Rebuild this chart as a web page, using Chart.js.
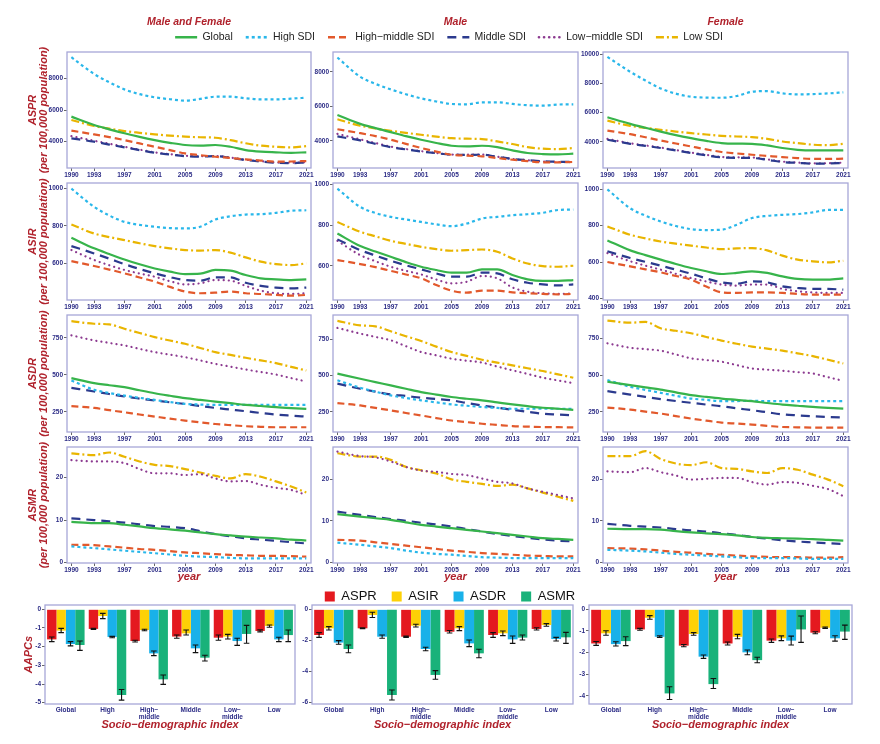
<!DOCTYPE html>
<html>
<head>
<meta charset="utf-8">
<script src="https://cdn.jsdelivr.net/npm/chart.js@4.4.1/dist/chart.umd.min.js"></script>
<style>
html, body { margin: 0; padding: 0; background: #fff; }
#page { position: relative; width: 880px; height: 744px; overflow: hidden; background: #fff; }
canvas { position: absolute; }
</style>
</head>
<body>
<div id="page"></div>
<script>
Chart.defaults.font.family = "'Liberation Sans', Arial, sans-serif";
Chart.defaults.animation = false;

const YEARS = [1990, 1993, 1995, 1997, 1999, 2001, 2003, 2005, 2007, 2009, 2011, 2013, 2015, 2017, 2019, 2021];
const YEAR_TICKS = [1990, 1993, 1997, 2001, 2005, 2009, 2013, 2017, 2021];
const GROUPS = ["Global", "High SDI", "High\u2212middle SDI", "Middle SDI", "Low\u2212middle SDI", "Low SDI"];
const SDI_CATS = ["Global", "High", ["High\u2212", "middle"], "Middle", ["Low\u2212", "middle"], "Low"];
const MEASURES = ["ASPR", "ASIR", "ASDR", "ASMR"];
const SEXES = ["Male and Female", "Male", "Female"];

// rows in every table: Global, High, High-middle, Middle, Low-middle, Low
const ASPR_BOTH = [
    [5580, 5050, 4780, 4530, 4300, 4100, 3930, 3790, 3750, 3790, 3680, 3470, 3370, 3330, 3300, 3330],
    [9330, 8270, 7750, 7300, 7000, 6800, 6680, 6590, 6700, 6840, 6840, 6740, 6670, 6670, 6715, 6780],
    [4700, 4460, 4290, 4100, 3890, 3680, 3470, 3260, 3150, 3050, 2970, 2880, 2810, 2740, 2750, 2780],
    [4210, 4000, 3820, 3640, 3470, 3300, 3190, 3090, 3060, 3090, 2980, 2840, 2750, 2670, 2650, 2690],
    [4350, 4060, 3870, 3680, 3500, 3330, 3210, 3110, 3080, 3100, 3000, 2860, 2770, 2690, 2670, 2700],
    [5370, 4990, 4820, 4670, 4560, 4460, 4380, 4320, 4280, 4250, 4100, 3900, 3750, 3680, 3640, 3720]
];
const ASPR_MALE = [
    [5500, 4980, 4730, 4500, 4270, 4060, 3870, 3710, 3670, 3710, 3630, 3440, 3290, 3230, 3210, 3250],
    [8830, 7710, 7300, 6980, 6700, 6460, 6280, 6135, 6115, 6230, 6230, 6135, 6060, 6040, 6100, 6115],
    [4670, 4440, 4270, 4060, 3820, 3580, 3370, 3190, 3140, 3100, 3000, 2900, 2820, 2750, 2750, 2770],
    [4250, 4020, 3820, 3630, 3500, 3380, 3280, 3190, 3180, 3190, 3070, 2940, 2870, 2810, 2780, 2770],
    [4400, 4080, 3870, 3660, 3520, 3400, 3290, 3200, 3190, 3200, 3080, 2950, 2870, 2800, 2770, 2760],
    [5250, 4870, 4720, 4580, 4460, 4350, 4240, 4150, 4120, 4100, 3960, 3810, 3630, 3540, 3520, 3580]
];
const ASPR_FEMALE = [
    [5680, 5230, 4960, 4700, 4460, 4250, 4060, 3910, 3870, 3860, 3750, 3570, 3450, 3410, 3410, 3410],
    [9820, 8800, 8200, 7660, 7300, 7090, 7030, 7020, 7140, 7430, 7480, 7320, 7250, 7270, 7320, 7390],
    [4770, 4520, 4310, 4090, 3880, 3680, 3480, 3300, 3200, 3110, 3030, 2950, 2880, 2820, 2820, 2840],
    [4140, 3860, 3720, 3570, 3400, 3230, 3070, 2930, 2900, 2890, 2760, 2610, 2550, 2500, 2510, 2550],
    [4200, 3900, 3750, 3600, 3430, 3260, 3100, 2960, 2930, 2920, 2790, 2640, 2570, 2520, 2530, 2570],
    [5450, 5090, 4950, 4820, 4700, 4590, 4500, 4410, 4360, 4320, 4200, 4020, 3910, 3800, 3770, 3860]
];

const ASIR_BOTH = [
    [736, 680, 650, 621, 595, 573, 556, 543, 545, 565, 561, 538, 520, 515, 511, 515],
    [998, 901, 855, 821, 805, 795, 788, 786, 795, 834, 851, 860, 862, 869, 880, 883],
    [612, 586, 567, 547, 525, 503, 475, 450, 441, 444, 450, 441, 437, 432, 428, 432],
    [692, 653, 625, 596, 570, 547, 527, 511, 508, 526, 526, 497, 480, 471, 467, 471],
    [671, 618, 590, 565, 546, 529, 505, 488, 494, 511, 508, 480, 455, 441, 437, 441],
    [807, 759, 740, 724, 707, 692, 680, 671, 668, 671, 657, 632, 609, 596, 591, 600]
];
const ASIR_MALE = [
    [759, 697, 670, 644, 618, 595, 579, 566, 566, 582, 582, 554, 533, 525, 525, 529],
    [980, 890, 860, 841, 828, 816, 804, 795, 808, 833, 841, 849, 854, 861, 875, 877],
    [628, 608, 593, 575, 557, 538, 505, 477, 467, 477, 477, 469, 464, 461, 459, 461],
    [730, 677, 650, 625, 602, 582, 562, 546, 546, 566, 562, 533, 516, 508, 503, 508],
    [723, 652, 622, 595, 575, 557, 532, 513, 521, 549, 538, 493, 472, 464, 461, 464],
    [816, 767, 745, 723, 708, 693, 682, 674, 677, 680, 669, 636, 611, 598, 595, 600]
];
const ASIR_FEMALE = [
    [719, 664, 638, 613, 589, 567, 549, 534, 540, 549, 540, 521, 507, 503, 503, 510],
    [1000, 896, 855, 823, 798, 781, 776, 778, 805, 842, 854, 860, 864, 873, 887, 887],
    [600, 576, 560, 543, 523, 503, 465, 433, 430, 433, 433, 430, 424, 421, 421, 421],
    [659, 622, 601, 580, 558, 536, 510, 488, 481, 494, 488, 466, 457, 452, 452, 448],
    [649, 604, 580, 558, 535, 512, 493, 476, 470, 476, 476, 452, 439, 433, 430, 430],
    [796, 750, 730, 713, 701, 690, 680, 671, 675, 677, 664, 635, 613, 604, 598, 607]
];

const ASDR_BOTH = [
    [478, 444, 430, 417, 396, 376, 359, 343, 331, 320, 309, 298, 290, 282, 276, 271],
    [462, 399, 378, 360, 345, 331, 317, 304, 300, 298, 298, 298, 298, 298, 298, 298],
    [289, 277, 262, 248, 233, 219, 205, 192, 180, 169, 161, 154, 150, 147, 147, 147],
    [412, 388, 371, 354, 340, 327, 315, 304, 290, 277, 266, 255, 243, 232, 225, 219],
    [766, 732, 715, 698, 675, 653, 636, 619, 597, 574, 555, 536, 519, 502, 478, 455],
    [862, 844, 840, 810, 782, 754, 731, 709, 681, 653, 634, 615, 597, 579, 554, 529]
];
const ASDR_MALE = [
    [514, 479, 456, 433, 410, 387, 370, 353, 341, 330, 316, 302, 290, 279, 272, 265],
    [468, 417, 390, 364, 347, 330, 316, 302, 293, 284, 278, 272, 272, 272, 272, 272],
    [311, 295, 278, 261, 243, 226, 208, 191, 180, 169, 161, 153, 149, 146, 145, 144],
    [445, 410, 390, 371, 360, 348, 339, 330, 312, 295, 280, 265, 251, 238, 232, 226],
    [829, 790, 767, 744, 703, 663, 640, 617, 603, 590, 563, 537, 512, 486, 467, 449],
    [877, 847, 840, 806, 772, 739, 700, 663, 636, 610, 590, 571, 551, 532, 509, 486]
];
const ASDR_FEMALE = [
    [455, 432, 417, 402, 383, 364, 352, 341, 332, 323, 311, 300, 292, 284, 278, 273],
    [466, 421, 400, 380, 360, 341, 332, 323, 324, 325, 324, 323, 323, 323, 323, 323],
    [280, 266, 252, 239, 222, 205, 191, 178, 171, 164, 156, 148, 146, 144, 144, 144],
    [391, 368, 352, 337, 324, 312, 300, 289, 275, 262, 248, 234, 227, 221, 216, 212],
    [716, 686, 676, 666, 640, 614, 602, 591, 568, 545, 537, 530, 520, 511, 486, 461],
    [870, 856, 861, 818, 801, 784, 759, 734, 713, 693, 680, 666, 648, 629, 604, 579]
];

const ASMR_BOTH = [
    [9.6, 9.3, 9.3, 8.9, 8.5, 8.1, 7.8, 7.5, 7.1, 6.7, 6.4, 6.1, 5.9, 5.7, 5.4, 5.2],
    [3.8, 3.4, 3.1, 2.8, 2.5, 2.2, 1.9, 1.6, 1.4, 1.3, 1.1, 1.0, 1.0, 1.0, 1.0, 1.0],
    [4.2, 4.1, 3.8, 3.5, 3.2, 3.0, 2.7, 2.4, 2.2, 2.0, 1.8, 1.7, 1.6, 1.6, 1.5, 1.4],
    [10.4, 10.0, 9.7, 9.4, 9.0, 8.6, 8.4, 8.1, 7.4, 6.7, 6.2, 5.7, 5.4, 5.1, 4.8, 4.5],
    [24.1, 23.8, 23.8, 23.4, 22.0, 21.0, 21.0, 20.6, 20.8, 19.8, 19.1, 19.2, 18.3, 17.6, 17.1, 15.9],
    [25.7, 25.3, 25.9, 24.9, 23.8, 23.0, 22.7, 22.0, 21.2, 20.4, 19.8, 20.8, 20.2, 19.1, 17.9, 16.5]
];
const ASMR_MALE = [
    [11.6, 11.0, 10.6, 10.2, 9.6, 9.0, 8.6, 8.2, 7.8, 7.4, 7.0, 6.6, 6.2, 5.8, 5.6, 5.4],
    [4.7, 4.2, 3.8, 3.4, 2.8, 2.3, 2.0, 1.8, 1.5, 1.2, 1.1, 1.0, 1.0, 1.0, 1.0, 1.0],
    [5.4, 5.2, 4.8, 4.4, 4.0, 3.6, 3.2, 2.8, 2.5, 2.2, 2.0, 1.8, 1.6, 1.5, 1.4, 1.4],
    [12.2, 11.4, 10.9, 10.4, 10.0, 9.5, 9.1, 8.6, 8.0, 7.4, 6.8, 6.3, 5.9, 5.5, 5.2, 5.0],
    [26.7, 25.6, 25.3, 24.3, 23.0, 22.1, 21.8, 21.3, 21.0, 20.2, 19.4, 19.0, 17.8, 17.0, 16.2, 15.4],
    [26.3, 25.5, 25.5, 24.7, 23.0, 22.2, 21.4, 20.0, 19.4, 18.9, 18.4, 18.7, 17.8, 16.8, 15.8, 14.8]
];
const ASMR_FEMALE = [
    [8.1, 8.0, 8.0, 7.9, 7.5, 7.2, 7.0, 6.8, 6.5, 6.1, 5.9, 5.8, 5.7, 5.6, 5.4, 5.2],
    [3.0, 2.8, 2.6, 2.3, 2.0, 1.8, 1.6, 1.4, 1.2, 1.0, 1.0, 1.0, 0.9, 0.8, 0.8, 0.8],
    [3.4, 3.3, 3.1, 2.8, 2.5, 2.3, 2.0, 1.8, 1.6, 1.4, 1.3, 1.2, 1.2, 1.1, 1.1, 1.2],
    [9.3, 8.8, 8.6, 8.4, 8.0, 7.7, 7.4, 7.0, 6.6, 6.1, 5.7, 5.3, 5.0, 4.8, 4.6, 4.4],
    [22.0, 21.8, 22.8, 21.8, 21.0, 20.0, 20.2, 20.4, 20.4, 19.4, 18.8, 19.4, 19.2, 18.5, 17.7, 16.0],
    [25.7, 25.7, 26.9, 25.0, 23.9, 23.5, 24.2, 22.8, 22.6, 22.0, 21.6, 22.8, 22.4, 21.2, 20.0, 18.4]
];

// AAPC bars: rows ASPR, ASIR, ASDR, ASMR; columns follow SDI_CATS
const AAPC_BOTH = [
    [-1.61, -1.05, -1.70, -1.46, -1.52, -1.16],
    [-1.14, -0.36, -1.11, -1.29, -1.46, -0.89],
    [-1.86, -1.48, -2.36, -2.09, -1.70, -1.61],
    [-1.91, -4.59, -3.75, -2.59, -1.32, -1.38]
];
const AAPC_BOTH_LO = [
    [-1.73, -1.08, -1.75, -1.55, -1.66, -1.21],
    [-1.25, -0.50, -1.15, -1.38, -1.59, -0.96],
    [-1.96, -1.52, -2.48, -2.32, -1.93, -1.73],
    [-2.20, -4.86, -4.02, -2.77, -1.82, -1.73]
];
const AAPC_BOTH_HI = [
    [-1.48, -1.02, -1.66, -1.38, -1.38, -1.10],
    [-1.02, -0.22, -1.07, -1.11, -1.34, -0.84],
    [-1.73, -1.45, -2.23, -1.91, -1.55, -1.50],
    [-1.70, -4.29, -3.52, -2.46, -0.86, -1.11]
];
const AAPC_MALE = [
    [-1.65, -1.22, -1.76, -1.44, -1.65, -1.26],
    [-1.22, -0.36, -1.05, -1.22, -1.54, -1.01],
    [-2.14, -1.76, -2.55, -2.19, -1.93, -1.91],
    [-2.55, -5.51, -4.22, -2.83, -1.82, -1.80]
];
const AAPC_MALE_LO = [
    [-1.80, -1.25, -1.80, -1.52, -1.80, -1.33],
    [-1.33, -0.52, -1.14, -1.37, -1.69, -1.09],
    [-2.25, -1.86, -2.66, -2.40, -2.19, -2.04],
    [-2.79, -5.83, -4.50, -3.11, -1.97, -2.19]
];
const AAPC_MALE_HI = [
    [-1.50, -1.19, -1.72, -1.36, -1.50, -1.18],
    [-1.11, -0.19, -0.96, -1.11, -1.39, -0.92],
    [-2.01, -1.65, -2.44, -1.97, -1.71, -1.80],
    [-2.29, -5.19, -3.94, -2.57, -1.65, -1.48]
];
const AAPC_FEMALE = [
    [-1.58, -0.93, -1.68, -1.58, -1.45, -1.08],
    [-1.11, -0.39, -1.14, -1.27, -1.34, -0.85],
    [-1.61, -1.27, -2.19, -1.99, -1.45, -1.34],
    [-1.47, -3.89, -3.46, -2.35, -0.93, -1.03]
];
const AAPC_FEMALE_LO = [
    [-1.67, -0.97, -1.73, -1.65, -1.53, -1.13],
    [-1.20, -0.46, -1.20, -1.36, -1.45, -0.88],
    [-1.70, -1.30, -2.27, -2.10, -1.65, -1.47],
    [-1.68, -4.17, -3.66, -2.47, -1.53, -1.39]
];
const AAPC_FEMALE_HI = [
    [-1.49, -0.88, -1.63, -1.51, -1.37, -1.04],
    [-0.99, -0.29, -1.08, -1.16, -1.23, -0.82],
    [-1.50, -1.22, -2.11, -1.88, -1.24, -1.22],
    [-1.27, -3.58, -3.20, -2.22, -0.31, -0.73]
];

// y ticks per panel
const ASPR_TICKS = [[4000, 6000, 8000], [4000, 6000, 8000], [4000, 6000, 8000, 10000]];
const ASIR_TICKS = [[600, 800, 1000], [600, 800, 1000], [400, 600, 800, 1000]];
const ASDR_TICKS = [250, 500, 750];
const ASMR_TICKS = [0, 10, 20];
const AAPC_TICKS = [[0, -1, -2, -3, -4, -5], [0, -2, -4, -6], [0, -1, -2, -3, -4]];

// styles
const LINE_STYLE = [
    { color: "#37b44b", dash: [], cap: "butt" },
    { color: "#29b7ea", dash: [3, 3], cap: "butt" },
    { color: "#e2592c", dash: [7, 4], cap: "butt" },
    { color: "#2b3a8e", dash: [9, 6], cap: "butt" },
    { color: "#8c3a90", dash: [0.1, 5], cap: "round" },
    { color: "#e9b500", dash: [8, 3, 2, 3], cap: "butt" }
];
const BAR_COLORS = ["#e4191f", "#fdd106", "#19b1e9", "#19b27a"];
const RED = "#b0222c";
const NAVY = "#2c2c86";
const TICK_COL = "#666";
const FRAME_COL = "#a7a7d8";

// page geometry of the plot boxes
const COL_L = [67, 333, 603];
const COL_R = [311, 578, 848];
const ROW_T = [52, 183, 315, 447];
const ROW_B = [168, 300, 432, 563];
const BAR_L = [45, 312, 589];
const BAR_R = [295, 573, 852];
const BAR_T = 605;
const BAR_B = 704;

const titleFont = { size: 11, weight: "bold", style: "italic" };
const tickFont = { size: 6.5, weight: "bold" };

const framePlugin = {
    id: "frame",
    afterDraw(chart) {
        const a = chart.chartArea;
        const ctx = chart.ctx;
        ctx.save();
        ctx.strokeStyle = FRAME_COL;
        ctx.lineWidth = 1.3;
        ctx.strokeRect(a.left, a.top, a.right - a.left, a.bottom - a.top);
        ctx.restore();
    }
};

const whiskerPlugin = {
    id: "whiskers",
    afterDatasetsDraw(chart) {
        const ctx = chart.ctx;
        const y = chart.scales.y;
        ctx.save();
        ctx.strokeStyle = "#111";
        ctx.lineWidth = 1.1;
        chart.data.datasets.forEach(function (ds, i) {
            chart.getDatasetMeta(i).data.forEach(function (bar, j) {
                const y1 = y.getPixelForValue(ds.lo[j]);
                const y2 = y.getPixelForValue(ds.hi[j]);
                const x = bar.x;
                const w = 2.8;
                ctx.beginPath();
                ctx.moveTo(x, y1); ctx.lineTo(x, y2);
                ctx.moveTo(x - w, y1); ctx.lineTo(x + w, y1);
                ctx.moveTo(x - w, y2); ctx.lineTo(x + w, y2);
                ctx.stroke();
            });
        });
        ctx.restore();
    }
};

function addCanvas(left, top, w, h) {
    const cv = document.createElement("canvas");
    cv.width = w;
    cv.height = h;
    cv.style.left = left + "px";
    cv.style.top = top + "px";
    cv.style.width = w + "px";
    cv.style.height = h + "px";
    document.getElementById("page").appendChild(cv);
    return cv;
}

function linePanel(r, c, rows, yMin, yMax, yTicks) {
    const yw = c === 0 ? 45 : 24;
    const rp = 10;
    const head = r === 0 ? 36 : 6;
    const foot = r === 3 ? 28 : 12;
    const cv = addCanvas(COL_L[c] - yw, ROW_T[r] - head,
        COL_R[c] - COL_L[c] + yw + rp, ROW_B[r] - ROW_T[r] + head + foot);

    const datasets = rows.map(function (vals, i) {
        return {
            label: GROUPS[i],
            data: vals.map(function (v, k) { return { x: YEARS[k], y: v }; }),
            borderColor: LINE_STYLE[i].color,
            backgroundColor: LINE_STYLE[i].color,
            borderDash: LINE_STYLE[i].dash,
            borderCapStyle: LINE_STYLE[i].cap,
            borderWidth: 2.2,
            pointRadius: 0,
            cubicInterpolationMode: "monotone",
            fill: false
        };
    });

    const scales = {
        x: {
            type: "linear",
            min: 1989.42,
            max: 2021.62,
            afterBuildTicks: function (s) { s.ticks = YEAR_TICKS.map(function (v) { return { value: v }; }); },
            afterFit: function (s) { s.height = foot; },
            grid: { drawOnChartArea: false, tickLength: 3, color: TICK_COL },
            border: { display: false },
            ticks: { padding: 0, maxRotation: 0, autoSkip: false, color: NAVY, font: tickFont,
                callback: function (v) { return String(v); } },
            title: { display: r === 3, text: "year", color: RED, font: titleFont, padding: { top: 0, bottom: 7.4 } }
        },
        y: {
            type: "linear",
            min: yMin,
            max: yMax,
            afterBuildTicks: function (s) { s.ticks = yTicks.map(function (v) { return { value: v }; }); },
            afterFit: function (s) { s.width = yw; },
            grid: { drawOnChartArea: false, tickLength: 3, color: TICK_COL },
            border: { display: false },
            ticks: { padding: 1, color: NAVY, font: tickFont, callback: function (v) { return String(v); } },
            title: {
                display: c === 0,
                text: [MEASURES[r], "(per 100,000 population)"],
                color: RED,
                font: { size: 11, weight: "bold", style: "italic", lineHeight: 1 },
                padding: { top: 5.5, bottom: 0 }
            }
        }
    };
    if (r === 0) {
        scales.xTop = {
            axis: "x",
            type: "linear",
            position: "top",
            afterFit: function (s) { s.height = head; },
            ticks: { display: false },
            grid: { display: false },
            border: { display: false },
            title: { display: true, text: SEXES[c], color: RED, font: { size: 10.5, weight: "bold", style: "italic" },
                padding: { top: 0, bottom: 0 } }
        };
    }

    new Chart(cv, {
        type: "line",
        data: { datasets: datasets },
        options: {
            responsive: false,
            animation: false,
            events: [],
            layout: { padding: { top: r === 0 ? 0 : head, right: rp, left: 0, bottom: 0 } },
            plugins: { legend: { display: false }, tooltip: { enabled: false } },
            scales: scales
        },
        plugins: [framePlugin]
    });
}

function barPanel(c, vals, lo, hi, yMin, yMax) {
    const yw = [25, 14, 12][c];
    const rp = 6;
    const head = 6;
    const foot = 30;
    const cv = addCanvas(BAR_L[c] - yw, BAR_T - head,
        BAR_R[c] - BAR_L[c] + yw + rp, BAR_B - BAR_T + head + foot);

    const datasets = MEASURES.map(function (m, i) {
        return {
            label: m,
            data: vals[i],
            lo: lo[i],
            hi: hi[i],
            backgroundColor: BAR_COLORS[i],
            borderWidth: 0,
            categoryPercentage: 0.9,
            barPercentage: 1.0
        };
    });

    new Chart(cv, {
        type: "bar",
        data: { labels: SDI_CATS, datasets: datasets },
        options: {
            responsive: false,
            animation: false,
            events: [],
            layout: { padding: { top: head, right: rp, left: 0, bottom: 0 } },
            plugins: { legend: { display: false }, tooltip: { enabled: false } },
            scales: {
                x: {
                    afterFit: function (s) { s.height = foot; },
                    grid: { display: false, drawTicks: false, tickLength: 0 },
                    border: { display: false },
                    ticks: { padding: 2, maxRotation: 0, autoSkip: false, color: NAVY, font: tickFont },
                    title: { display: true, text: "Socio\u2212demographic index", color: RED, font: titleFont,
                        padding: { top: 0, bottom: 2.4 } }
                },
                y: {
                    type: "linear",
                    min: yMin,
                    max: yMax,
                    afterBuildTicks: function (s) { s.ticks = AAPC_TICKS[c].map(function (v) { return { value: v }; }); },
                    afterFit: function (s) { s.width = yw; },
                    grid: { drawOnChartArea: false, tickLength: 3, color: TICK_COL },
                    border: { display: false },
                    ticks: { padding: 1, color: NAVY, font: tickFont, callback: function (v) { return String(v); } },
                    title: { display: c === 0, text: "AAPCs", color: RED, font: titleFont, padding: { top: 2.4, bottom: 0 } }
                }
            }
        },
        plugins: [framePlugin, whiskerPlugin]
    });
}

function legendChart(left, top, height, type, datasets, labelOpts) {
    const cv = addCanvas(left, top, 880, height);
    new Chart(cv, {
        type: type,
        data: { labels: [], datasets: datasets },
        options: {
            responsive: false,
            animation: false,
            events: [],
            layout: { padding: 0 },
            scales: { x: { display: false }, y: { display: false } },
            plugins: {
                tooltip: { enabled: false },
                legend: { display: true, position: "top", align: "center", labels: labelOpts }
            }
        }
    });
}

// line panels
linePanel(0, 0, ASPR_BOTH, 2340, 9660, ASPR_TICKS[0]);
linePanel(0, 1, ASPR_MALE, 2420, 9150, ASPR_TICKS[1]);
linePanel(0, 2, ASPR_FEMALE, 2200, 10160, ASPR_TICKS[2]);
linePanel(1, 0, ASIR_BOTH, 405, 1028, ASIR_TICKS[0]);
linePanel(1, 1, ASIR_MALE, 431, 1008, ASIR_TICKS[1]);
linePanel(1, 2, ASIR_FEMALE, 391, 1035, ASIR_TICKS[2]);
linePanel(2, 0, ASDR_BOTH, 115, 903, ASDR_TICKS);
linePanel(2, 1, ASDR_MALE, 112, 918, ASDR_TICKS);
linePanel(2, 2, ASDR_FEMALE, 114, 908, ASDR_TICKS);
linePanel(3, 0, ASMR_BOTH, -0.1, 27.2, ASMR_TICKS);
linePanel(3, 1, ASMR_MALE, -0.2, 27.8, ASMR_TICKS);
linePanel(3, 2, ASMR_FEMALE, -0.2, 27.9, ASMR_TICKS);

// bar panels
barPanel(0, AAPC_BOTH, AAPC_BOTH_LO, AAPC_BOTH_HI, -5.07, 0.23);
barPanel(1, AAPC_MALE, AAPC_MALE_LO, AAPC_MALE_HI, -6.09, 0.28);
barPanel(2, AAPC_FEMALE, AAPC_FEMALE_LO, AAPC_FEMALE_HI, -4.38, 0.2);

// legends
legendChart(9, 19, 45, "line", GROUPS.map(function (g, i) {
    return {
        label: g, data: [],
        borderColor: LINE_STYLE[i].color, backgroundColor: LINE_STYLE[i].color,
        borderDash: LINE_STYLE[i].dash, borderCapStyle: LINE_STYLE[i].cap, borderWidth: 2.6
    };
}), {
    usePointStyle: true, pointStyle: "line", pointStyleWidth: 22, padding: 13, color: "#222", font: { size: 10.5 },
    generateLabels: function (chart) {
        return chart.data.datasets.map(function (ds, i) {
            return {
                text: ds.label, datasetIndex: i, hidden: false,
                fillStyle: ds.borderColor, strokeStyle: ds.borderColor, fontColor: "#222",
                lineWidth: ds.borderWidth, lineDash: ds.borderDash, lineCap: ds.borderCapStyle,
                pointStyle: "line"
            };
        });
    }
});

legendChart(10, 575, 55, "bar", MEASURES.map(function (m, i) {
    return { label: m, data: [], backgroundColor: BAR_COLORS[i], borderWidth: 0 };
}), { boxWidth: 10, boxHeight: 10, padding: 15, color: "#111", font: { size: 13 } });
</script>
</body>
</html>
